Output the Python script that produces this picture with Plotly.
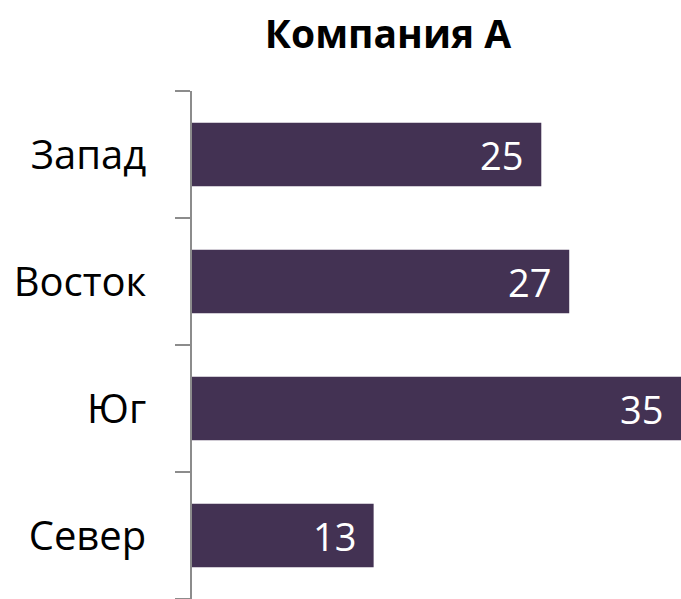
import plotly.graph_objects as go

# Regions and their values (bottom to top)
regions = ["Север", "Юг", "Восток", "Запад"]
values = [13, 35, 27, 25]

bar_color = "#433253"
axis_color = "#8c8c8c"
font_family = "Open Sans, Noto Sans, sans-serif"

fig = go.Figure(
    go.Bar(
        x=values,
        y=regions,
        orientation="h",
        marker=dict(color=bar_color, line=dict(width=0)),
        width=0.5,
        hoverinfo="skip",
    )
)

# Value labels inside the bar ends
for region, v in zip(regions, values):
    fig.add_annotation(
        x=v, y=region, xref="x", yref="y",
        text=str(v), showarrow=False,
        xanchor="right", yanchor="middle", xshift=-16,
        font=dict(family=font_family, size=38, color="white"),
    )

fig.update_layout(
    width=681,
    height=599,
    margin=dict(l=192, r=0, t=91, b=0),
    paper_bgcolor="white",
    plot_bgcolor="white",
    showlegend=False,
    title=dict(
        text="<b>Компания А</b>",
        x=388 / 681, xref="container", xanchor="center",
        y=1 - 34 / 599, yref="container", yanchor="middle",
        font=dict(family=font_family, size=39, color="black"),
    ),
    xaxis=dict(
        range=[0, 35],
        visible=False,
        fixedrange=True,
    ),
    yaxis=dict(
        categoryorder="array",
        categoryarray=regions,
        showline=True,
        linecolor=axis_color,
        linewidth=1.5,
        ticks="outside",
        tickson="boundaries",
        ticklen=15,
        tickwidth=1.5,
        tickcolor=axis_color,
        ticklabelstandoff=36,
        showgrid=False,
        zeroline=False,
        tickfont=dict(family=font_family, size=40, color="black"),
        fixedrange=True,
    ),
)

fig.write_html("out.html")
